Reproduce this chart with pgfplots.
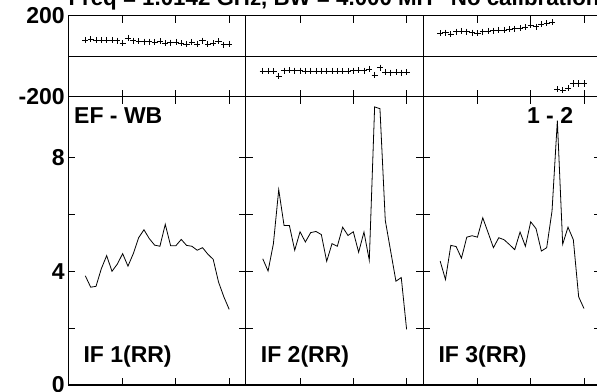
\documentclass[border=0pt]{standalone}
\usepackage{pgfplots}
\pgfplotsset{compat=1.18}
\usepackage{fontspec}
\setmainfont{Liberation Sans}
\newcommand{\lbl}{\fontsize{23}{25}\selectfont\bfseries}
\newcommand{\ttl}{\fontsize{22.3}{24}\selectfont\bfseries}

\pgfplotstableread{
ch a1 a2 a3
3 3.84 4.44 4.36
4 3.44 4.01 3.71
5 3.47 4.97 4.91
6 4.09 6.87 4.87
7 4.55 5.61 4.46
8 4.00 5.61 5.20
9 4.25 4.74 5.25
10 4.62 5.39 5.20
11 4.18 5.03 5.88
12 4.62 5.36 5.36
13 5.18 5.40 4.83
14 5.46 5.29 5.18
15 5.15 4.35 5.11
16 4.92 4.97 4.94
17 4.88 4.88 4.76
18 5.65 5.55 5.38
19 4.90 5.26 4.88
20 4.90 5.39 5.74
21 5.12 4.67 5.50
22 4.91 5.38 4.71
23 4.88 4.39 4.83
24 4.74 9.78 6.12
25 4.83 9.72 9.30
26 4.60 5.79 4.95
27 4.42 4.72 5.55
28 3.62 3.65 5.11
29 3.10 3.78 3.10
30 2.66 1.96 2.69
}\amptable

\pgfplotstableread{
ch p1 p2 p3
3 80 -73 113
4 83.5 -73 116
5 80 -75 108
6 80 -98 121
7 80 -72 124
8 80 -70 121
9 76.7 -72 116
10 63.6 -72 113
11 90 -74 121
12 76.7 -73 124
13 73.4 -73 126
14 71.7 -74 129
15 71.7 -74 129
16 70 -73 133
17 73.4 -74 136
18 63.6 -74 138
19 66.7 -73 143
20 70 -72 154
21 63.6 -70 146
22 60 -72 159
23 70 -63 162
24 60 -93 167
25 76.7 -57 -163
26 60 -80 -167
27 63.6 -82 -158
28 73.4 -80 -135
29 56.8 -82 -135
30 60 -80 -135
}\phasetable

\pgfplotsset{
  panel/.style={scale only axis, width=177.4pt, xmin=-0.2, xmax=33.1,
    xtick={10,20,30}, xticklabels={},
    axis line style={line width=1.1pt},
    major tick length=7pt, minor tick length=7pt,
    tick style={black, line width=0.9pt},
    tick label style={font=\lbl},
    anchor=south west},
  amp/.style={panel, height=288.3pt, ymin=0, ymax=10.14,
    ytick={0,4,8}, minor ytick={2,6}, yticklabels={}},
  phase/.style={panel, height=81pt, ymin=-200, ymax=200,
    ytick={-200,200}, yticklabels={},
    extra y ticks={0}, extra y tick labels={},
    extra y tick style={grid=major, major grid style={black, line width=1.1pt}, major tick length=0pt}},
  aline/.style={black, line width=0.8pt, mark=none},
  pmark/.style={black, only marks, mark=+, mark size=3.1pt, line width=0.8pt},
}

\begin{document}
\begin{tikzpicture}
% amplitude panels
\begin{axis}[amp, at={(68.3pt,6pt)}, yticklabels={0,4,8}]
\addplot[aline] table[x=ch,y=a1] {\amptable};
\end{axis}
\begin{axis}[amp, at={(245.7pt,6pt)}]
\addplot[aline] table[x=ch,y=a2] {\amptable};
\end{axis}
\begin{axis}[amp, at={(423.1pt,6pt)}]
\addplot[aline] table[x=ch,y=a3] {\amptable};
\end{axis}
% phase panels
\begin{axis}[phase, at={(68.3pt,294.3pt)}, yticklabels={-200,200}]
\addplot[pmark] table[x=ch,y=p1] {\phasetable};
\end{axis}
\begin{axis}[phase, at={(245.7pt,294.3pt)}]
\addplot[pmark] table[x=ch,y=p2] {\phasetable};
\end{axis}
\begin{axis}[phase, at={(423.1pt,294.3pt)}]
\addplot[pmark] table[x=ch,y=p3] {\phasetable};
\end{axis}
% labels
\node[anchor=base west, font=\ttl, inner sep=0] at (68.3pt,385pt) {Freq = 1.0142 GHz, BW = 4.000 MH};
\node[anchor=base west, font=\ttl, inner sep=0] at (450.7pt,385pt) {No calibration applied};
\node[anchor=base west, font=\lbl, inner sep=0] at (74pt,267.7pt) {EF - WB};
\node[anchor=base east, font=\lbl, inner sep=0] at (573.3pt,267.7pt) {1 - 2};
\node[anchor=base west, font=\lbl, inner sep=0] at (83.3pt,29pt) {IF 1(RR)};
\node[anchor=base west, font=\lbl, inner sep=0] at (260.7pt,29pt) {IF 2(RR)};
\node[anchor=base west, font=\lbl, inner sep=0] at (438.3pt,29pt) {IF 3(RR)};
\pgfresetboundingbox
\useasboundingbox (0,0) rectangle (597pt,391pt);
\end{tikzpicture}
\end{document}
